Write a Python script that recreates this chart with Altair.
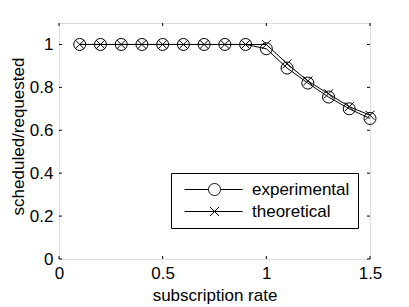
import altair as alt
import pandas as pd

x_vals = [0.1, 0.2, 0.3, 0.4, 0.5, 0.6, 0.7, 0.8, 0.9, 1.0, 1.1, 1.2, 1.3, 1.4, 1.5]
experimental = [1, 1, 1, 1, 1, 1, 1, 1, 1, 0.98, 0.89, 0.82, 0.755, 0.70, 0.655]
theoretical = [1, 1, 1, 1, 1, 1, 1, 1, 1, 1, 0.91, 0.83, 0.77, 0.71, 0.67]
series_names = ["experimental", "theoretical"]
x_ticks = [0, 0.5, 1, 1.5]
y_ticks = [0, 0.2, 0.4, 0.6, 0.8, 1]

FONT = "Liberation Sans"
W, H = 311, 236

rows = []
for name, vals in zip(series_names, [experimental, theoretical]):
    for xv, yv in zip(x_vals, vals):
        rows.append({"x": xv, "y": yv, "series": name})
df = pd.DataFrame(rows)

xscale = alt.Scale(domain=[0, 1.5], nice=False, zero=False)
yscale = alt.Scale(domain=[0, 1.1], nice=False, zero=False)

xaxis = alt.Axis(values=x_ticks, format="~g", ticks=False, grid=False, domain=False,
                 labelFont=FONT, labelFontSize=17, labelColor="black", labelPadding=6,
                 labelFlush=False,
                 title="subscription rate", titleFont=FONT, titleFontSize=17,
                 titleFontWeight="normal", titleColor="black", titlePadding=6)
yaxis = alt.Axis(values=y_ticks, format="~g", ticks=False, grid=False, domain=False,
                 labelFont=FONT, labelFontSize=17, labelColor="black", labelPadding=6,
                 labelFlush=False,
                 title="scheduled/requested", titleFont=FONT, titleFontSize=17,
                 titleFontWeight="normal", titleColor="black", titlePadding=2,
                 titleY=113)

cross_path = "M-1,-1L1,1M-1,1L1,-1"
leg_circle = ("M-0.5,0L3.5,0M5.5,0L9.17,0"
              "M3.5,0A1,1 0 1,1 5.5,0A1,1 0 1,1 3.5,0")
leg_cross = ("M-0.5,0L9.17,0"
             "M3.75,-0.75L5.25,0.75M3.75,0.75L5.25,-0.75")

base = alt.Chart(df)

lines = base.mark_line(color="black", strokeWidth=1).encode(
    x=alt.X("x:Q", scale=xscale, axis=xaxis),
    y=alt.Y("y:Q", scale=yscale, axis=yaxis),
    detail="series:N",
)

points = base.mark_point(filled=False, color="black", opacity=1, strokeWidth=1).encode(
    x=alt.X("x:Q", scale=xscale),
    y=alt.Y("y:Q", scale=yscale),
    shape=alt.Shape("series:N", scale=alt.Scale(domain=series_names, range=["circle", cross_path]), legend=None),
    size=alt.Size("series:N", scale=alt.Scale(domain=series_names, range=[144, 81]), legend=None),
)

legend_layer = base.mark_point(filled=False, color="black", opacity=1, strokeWidth=1, size=0).encode(
    x=alt.X("x:Q", scale=xscale),
    y=alt.Y("y:Q", scale=yscale),
    shape=alt.Shape("series:N",
                    scale=alt.Scale(domain=series_names, range=[leg_circle, leg_cross]),
                    legend=alt.Legend(orient="none", legendX=112, legendY=150, title=None,
                                      padding=8, strokeColor="black", fillColor="white",
                                      cornerRadius=0, symbolSize=144, symbolStrokeWidth=1,
                                      symbolStrokeColor="black", symbolFillColor="transparent",
                                      labelFont=FONT, labelFontSize=17, labelColor="black",
                                      labelOffset=56, rowPadding=4)),
)

tick_y = pd.DataFrame({"t": y_ticks})
tick_x = pd.DataFrame({"t": x_ticks})
tl = 3
yt_left = alt.Chart(tick_y).mark_rule(color="black", strokeWidth=1).encode(
    y=alt.Y("t:Q", scale=yscale), x=alt.value(0), x2=alt.value(tl))
yt_right = alt.Chart(tick_y).mark_rule(color="black", strokeWidth=1).encode(
    y=alt.Y("t:Q", scale=yscale), x=alt.value(W - tl), x2=alt.value(W))
xt_bottom = alt.Chart(tick_x).mark_rule(color="black", strokeWidth=1).encode(
    x=alt.X("t:Q", scale=xscale), y=alt.value(H), y2=alt.value(H - tl))
xt_top = alt.Chart(tick_x).mark_rule(color="black", strokeWidth=1).encode(
    x=alt.X("t:Q", scale=xscale), y=alt.value(0), y2=alt.value(tl))

chart = alt.layer(
    yt_left, yt_right, xt_bottom, xt_top, lines, points, legend_layer
).resolve_scale(
    shape="independent", size="independent"
).properties(
    width=W, height=H,
    autosize=alt.AutoSizeParams(type="none"),
    padding={"left": 51, "top": 15, "right": 31, "bottom": 48},
).configure_view(
    stroke="black", strokeWidth=1
).configure(background="white")

chart.save("out.html", embed_options={"renderer": "svg", "actions": False})
